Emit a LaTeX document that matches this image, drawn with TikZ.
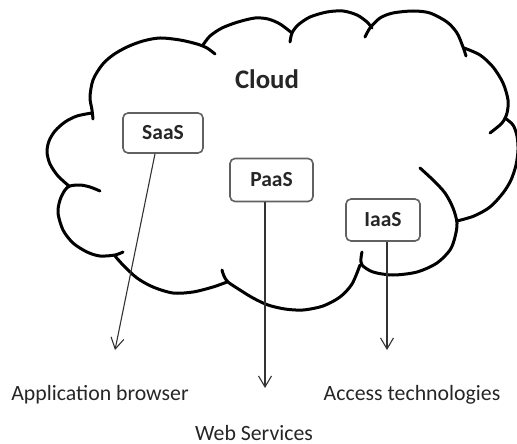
\documentclass[tikz,border=0pt]{standalone}
\usepackage{fontspec}
\setmainfont{Carlito}
\usetikzlibrary{arrows.meta}
\begin{document}
\begin{tikzpicture}[x=0.5pt,y=-0.5pt,
  cloudline/.style={line width=1.5pt, draw=black, line join=round, line cap=round},
  svcbox/.style={draw=black!62, line width=0.8pt, rounded corners=2.5pt, fill=white, inner sep=0pt,
    font=\fontsize{10.75}{12}\selectfont\bfseries, text=black!85},
  link/.style={draw=black!80, line width=0.55pt, -{Straight Barb[length=5.5pt,width=6.5pt]}},
  lbl/.style={font=\fontsize{10.9}{12}\selectfont, text=black!85, anchor=base, inner sep=0pt}
]
\useasboundingbox (0,0) rectangle (517,443);
% cloud lobes
\draw[cloudline] plot[smooth] coordinates {(69,186) (58,176) (50,164) (47,152) (49,141) (55,131) (65,122) (77,116) (92,113)};
\draw[cloudline] plot[smooth] coordinates {(93,119) (92,110) (90,97) (93,80) (102,65) (113,55) (127,47) (143,41) (160,38) (180,40) (197,44) (207,48) (215,54)};
\draw[cloudline] plot[smooth] coordinates {(203,45) (210,36) (222,28) (238,22) (255,18) (268,19) (280,24) (292,33)};
\draw[cloudline] plot[smooth] coordinates {(290,42) (292,33) (298,25) (310,17) (327,12) (343,11) (357,15) (367,22) (372,28)};
\draw[cloudline] plot[smooth] coordinates {(365,37) (370,28) (380,18) (393,13) (413,11) (430,13) (447,22) (457,33) (463,47) (466,56)};
\draw[cloudline] plot[smooth] coordinates {(464,48) (480,55) (493,67) (503,83) (508,100) (507,113) (502,123) (490,133)};
\draw[cloudline] plot[smooth] coordinates {(505,118) (513,125) (517,136) (518,150) (516,165) (511,180) (503,193) (490,207) (474,216) (457,221)};
\draw[cloudline] plot[smooth] coordinates {(420,168) (433,180) (445,193) (453,208) (457,223) (455,237) (450,250) (437,263) (417,272) (393,275) (373,272) (362,265) (361,258) (362,252)};
\draw[cloudline] plot[smooth] coordinates {(360,265) (352,284) (340,297) (323,306) (303,310) (285,309) (268,305) (253,298) (240,290) (228,282) (224,276) (222,270)};
\draw[cloudline] plot[smooth] coordinates {(227,282) (213,287) (193,292) (173,293) (153,287) (137,278) (123,265) (115,256)};
\draw[cloudline] plot[smooth] coordinates {(123,252) (115,255) (100,256) (87,252) (73,243) (63,230) (58,213) (60,200) (65,190) (70,186) (80,185) (90,187) (100,191)};

\node[font=\fontsize{13.4}{15}\selectfont\bfseries, text=black!85, anchor=base, inner sep=0pt] (cloud) at (267,89) {Cloud};

\node[svcbox, minimum width=40pt, minimum height=20pt] (saas) at (163,133) {SaaS};
\node[svcbox, minimum width=41.5pt, minimum height=21.5pt] (paas) at (271.5,180) {PaaS};
\node[svcbox, minimum width=37pt, minimum height=21pt] (iaas) at (383,220) {IaaS};

\coordinate (tipa) at (115,350);
\coordinate (tipb) at (265,388);
\coordinate (tipc) at (387,350);

\draw[link] ([xshift=-4pt]saas.south) -- (tipa);
\draw[link] ([xshift=-3.25pt]paas.south) -- (tipb);
\draw[link] ([xshift=2pt]iaas.south) -- (tipc);

\node[lbl] (appb) at (100,400) {Application browser};
\node[lbl] (acct) at (412,400) {Access technologies};
\node[lbl] (webs) at (254,440) {Web Services};
\end{tikzpicture}
\end{document}
